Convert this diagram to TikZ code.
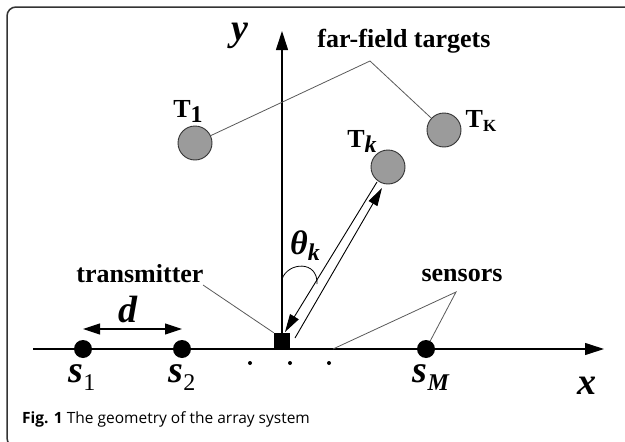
\documentclass[tikz,border=0pt]{standalone}
\usepackage{fontspec}
\setmainfont{Liberation Serif}
\newfontfamily\capfont{Open Sans}
\usetikzlibrary{arrows.meta,calc}
\newcommand{\lblfont}{\fontsize{26}{28}\selectfont\bfseries}
\newcommand{\bigmath}{\fontsize{38}{40}\selectfont\bfseries\itshape}
\newcommand{\subfnt}{\fontsize{24}{26}\selectfont}
\begin{document}
\begin{tikzpicture}[x=1pt,y=-1pt,
  target/.style={circle,draw=black!80,line width=0.9pt,fill={rgb,255:red,155;green,155;blue,155},minimum size=34pt,inner sep=0pt},
  sensor/.style={circle,fill=black,minimum size=18pt,inner sep=0pt},
  txbox/.style={rectangle,fill=black,minimum size=16pt,inner sep=0pt},
  dotmark/.style={circle,fill=black,minimum size=4pt,inner sep=0pt},
  axis/.style={line width=1.1pt,-{Triangle[length=19pt,width=12pt]}},
  leader/.style={draw=black!65,line width=0.8pt},
  beam/.style={line width=0.9pt,-{Triangle[length=18pt,width=10pt]}},
  txt/.style={inner sep=0pt}]
\useasboundingbox (0,0) rectangle (625,442);
\begin{scope}
  \clip (0,0) rectangle (625,442);
  \draw[line width=1.5pt,black!80,rounded corners=9pt] (7,7) rectangle (650,447);
\end{scope}

% nodes
\node[target] (T1) at (195,143) {};
\node[target] (Tk) at (388,167) {};
\node[target] (TK) at (444,130) {};
\node[sensor] (s1) at (83,349) {};
\node[sensor] (s2) at (182,349) {};
\node[sensor] (sM) at (426,349) {};
\node[dotmark] (p1) at (250,363) {};
\node[dotmark] (p2) at (290,363) {};
\node[dotmark] (p3) at (329,363) {};

\coordinate (xl) at (33,349);
\coordinate (xr) at (604,349);
\coordinate (yt) at (282,31);
\coordinate (ff) at (370,61);
\coordinate (tl) at (203,285);
\coordinate (sn) at (456,292);
\coordinate (sx) at (333,349);
\coordinate (a1) at (377,182);
\coordinate (a2) at (285,332);
\coordinate (b1) at (295,338);
\coordinate (b2) at (382,188);

% axes
\draw[axis] (xl) -- (xr);
\node[txbox] (tx) at (282,341) {};
\draw[axis] (tx.north) -- (yt);

% beams
\draw[beam] (a1) -- (a2);
\draw[beam] (b1) -- (b2);

% angle arc
\draw[line width=0.8pt] (282,279) .. controls (288,262) and (318,260) .. (317,284);

% spacing arrow
\draw[line width=1.1pt,{Triangle[length=17pt,width=11pt]}-{Triangle[length=17pt,width=11pt]}] ([yshift=20pt]s1.center) -- ([yshift=20pt]s2.center);

% leaders
\draw[leader] (T1) -- (ff) -- (TK);
\draw[leader] (tl) -- (tx.north west);
\draw[leader] (sx) -- (sn) -- (sM);

% labels
\node[txt] (lff) at (404,41) {\lblfont far-field targets};
\node[txt] (ltx) at (140,274) {\lblfont transmitter};
\node[txt] (lsn) at (462,275) {\lblfont sensors};
\node[txt] (lT1) at (188,111) {\lblfont T\raisebox{-5pt}{\subfnt 1}};
\node[txt] (lTk) at (362,141) {\lblfont T\raisebox{-5pt}{\subfnt\itshape k}};
\node[txt] (lTK) at (481,121) {\lblfont T\raisebox{-4pt}{\fontsize{17}{18}\selectfont K}};
\node[txt] (ly) at (240,36) {\bigmath y};
\node[txt] (lx) at (587,386) {\bigmath x};
\node[txt] (ls1) at (82,378) {\bigmath s\raisebox{-8pt}{\subfnt\upshape\mdseries 1}};
\node[txt] (ls2) at (182,378) {\bigmath s\raisebox{-8pt}{\subfnt\upshape\mdseries 2}};
\node[txt] (lsM) at (431,378) {\bigmath s\raisebox{-8pt}{\subfnt M}};
\node[txt] (ld) at (128,309) {\bigmath d};
\node[txt] (lth) at (305,246) {\fontsize{34}{36}\selectfont\bfseries\itshape θ\raisebox{-6pt}{\subfnt k}};

% caption
\node[anchor=base west,inner sep=0pt] (cap) at (22,423) {\capfont\fontsize{15.5}{17}\selectfont\textbf{Fig. 1} The geometry of the array system};
\end{tikzpicture}
\end{document}
